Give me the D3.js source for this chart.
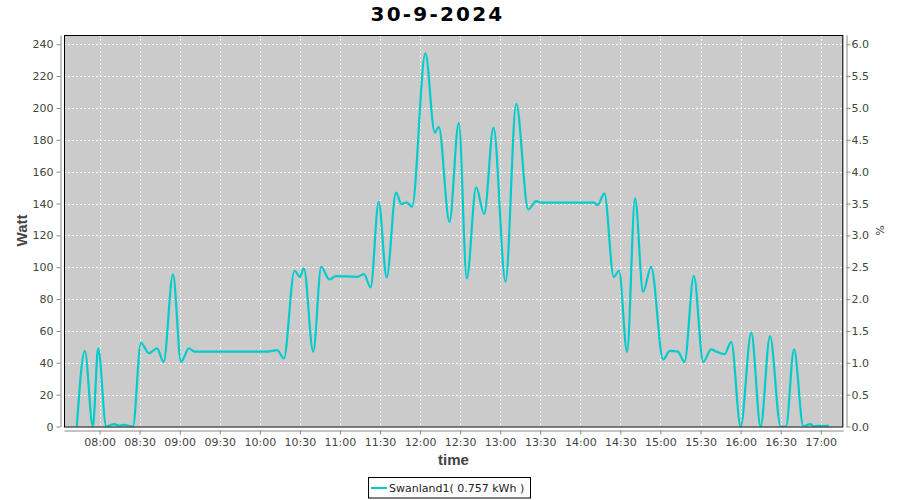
<!DOCTYPE html>
<html><head><meta charset="utf-8">
<script src="https://cdn.jsdelivr.net/npm/d3@7"></script>
<style>body{margin:0;background:#fff}svg{display:block}</style>
</head><body><svg id="c" width="900" height="500"></svg>
<script>
const chartTitle = "30-9-2024";
const seriesName = "Swanland1( 0.757 kWh )";
const yLabel = "Watt", y2Label = "%", xLabel = "time";
const times = ["07:43","07:49","07:55","07:59","08:05","08:11","08:15","08:18","08:25","08:31","08:37","08:43","08:48","08:55","09:01","09:07","09:11","10:06","10:13","10:18","10:26","10:30","10:33","10:40","10:46","10:52","10:57","11:13","11:18","11:23","11:29","11:35","11:42","11:46","11:50","11:54","12:04","12:11","12:14","12:22","12:29","12:35","12:42","12:48","12:55","13:04","13:12","13:21","13:27","13:31","14:10","14:13","14:18","14:25","14:29","14:35","14:41","14:47","14:53","15:02","15:07","15:13","15:18","15:25","15:32","15:38","15:42","15:48","15:53","16:00","16:08","16:15","16:22","16:30","16:34","16:40","16:47","16:52","16:55","16:58","17:06"];
const watts = [0,47.5,0,49,0,1.5,0.5,1,0,52.5,46,49,40.6,95.5,40.6,49,47,47,48,42.7,97.8,94,99.3,47,100.3,92.3,94.4,94,95.7,87.3,141,93.6,146.8,139.7,140.7,138,234.3,184.5,188.2,128.5,190.7,93,150.2,133.4,187.6,90.9,202.5,136.3,141.5,140.5,140.5,139,146.4,94,97.8,46.9,143.2,84.6,100.3,42.1,47.5,47,40.6,94.6,40.6,48.4,47,45.4,53.2,0,58.8,0,56.7,0,0,48.4,0,1.5,0,0.4,0.4];
const leftTicks = [0,20,40,60,80,100,120,140,160,180,200,220,240];
const rightTicks = [0,0.5,1,1.5,2,2.5,3,3.5,4,4.5,5,5.5,6];
const xTickLabels = ["08:00","08:30","09:00","09:30","10:00","10:30","11:00","11:30","12:00","12:30","13:00","13:30","14:00","14:30","15:00","15:30","16:00","16:30","17:00"];

const toMin = s => { const p = s.split(":").map(Number); return p[0]*60 + p[1]; };
const data = times.map((t,i) => ({t: toMin(t), v: watts[i]}));

const svg = d3.select("#c");
const P = {l:64, r:843.3, t:35, b:426.5};
const x = d3.scaleLinear().domain([453.4, 1036.9]).range([P.l, P.r]);
const y = d3.scaleLinear().domain([0, 245.8]).range([P.b, P.t]);
const y2 = d3.scaleLinear().domain([0, 6.145]).range([P.b, P.t]);
const FONT = "DejaVu Sans, sans-serif";

// title
svg.append("text").attr("x", 437.5).attr("y", 21).attr("text-anchor","middle")
  .attr("font-family", FONT).attr("font-weight","bold").attr("font-size",20)
  .attr("letter-spacing", 2.2).attr("fill","#000").text(chartTitle);

// plot background
svg.append("rect").attr("x", P.l).attr("y", P.t).attr("width", P.r-P.l).attr("height", P.b-P.t)
  .attr("fill", "#cbcbcb");

// gridlines
const g = svg.append("g").attr("stroke","#fff").attr("stroke-width",1).attr("stroke-dasharray","2,2");
leftTicks.filter(d=>d>0).forEach(d => {
  const yy = Math.round(y(d)) + 0.5;
  g.append("line").attr("x1",P.l).attr("x2",P.r).attr("y1",yy).attr("y2",yy);
});
xTickLabels.forEach(s => {
  const xx = Math.round(x(toMin(s))) + 0.5;
  g.append("line").attr("x1",xx).attr("x2",xx).attr("y1",P.t).attr("y2",P.b);
});

// line
svg.append("clipPath").attr("id","clip").append("rect")
  .attr("x",P.l).attr("y",P.t).attr("width",P.r-P.l).attr("height",P.b-P.t);
const line = d3.line().x(d => x(d.t)).y(d => y(d.v)).curve(d3.curveMonotoneX);
svg.append("path").datum(data).attr("clip-path","url(#clip)")
  .attr("d", line).attr("fill","none").attr("stroke","#00cccc").attr("stroke-width",2.2)
  .attr("stroke-linejoin","round");

// border
svg.append("rect").attr("x", P.l+0.5).attr("y", P.t+0.5).attr("width", P.r-P.l-1).attr("height", P.b-P.t)
  .attr("fill","none").attr("stroke","#000").attr("stroke-width",1);

function styleAxis(sel){
  sel.select(".domain").attr("stroke","#888");
  sel.selectAll(".tick line").attr("stroke","#888");
  sel.selectAll(".tick text").attr("fill","#444").attr("font-family",FONT).attr("font-size",11);
}
// left axis
svg.append("g").attr("transform","translate(60.5,0)")
  .call(d3.axisLeft(y).tickValues(leftTicks).tickSize(4).tickSizeOuter(0).tickPadding(3))
  .call(styleAxis);
// right axis
svg.append("g").attr("transform","translate(846.5,0)")
  .call(d3.axisRight(y2).tickValues(rightTicks).tickFormat(d3.format(".1f")).tickSize(4).tickSizeOuter(0).tickPadding(1))
  .call(styleAxis);
// bottom axis
svg.append("g").attr("transform","translate(0,430.5)")
  .call(d3.axisBottom(x).tickValues(xTickLabels.map(toMin)).tickFormat((d,i)=>xTickLabels[i]).tickSize(4).tickSizeOuter(0).tickPadding(4))
  .call(styleAxis);

// axis labels
svg.append("text").attr("transform","translate(27,230.5) rotate(-90)").attr("text-anchor","middle")
  .attr("font-family","Liberation Sans, sans-serif").attr("font-weight","bold").attr("font-size",15)
  .attr("fill","#444").text(yLabel);
svg.append("text").attr("transform","translate(876,230.5) rotate(90)").attr("text-anchor","middle")
  .attr("font-family",FONT).attr("font-size",11).attr("fill","#444").text(y2Label);
svg.append("text").attr("x",453.5).attr("y",465).attr("text-anchor","middle")
  .attr("font-family","Liberation Sans, sans-serif").attr("font-weight","bold").attr("font-size",15)
  .attr("fill","#444").text(xLabel);

// legend
const lg = svg.append("g");
lg.append("rect").attr("x",368.5).attr("y",477.5).attr("width",162).attr("height",20.5)
  .attr("fill","#fff").attr("stroke","#000");
lg.append("line").attr("x1",371).attr("x2",387).attr("y1",488).attr("y2",488)
  .attr("stroke","#00cccc").attr("stroke-width",2);
lg.append("text").attr("x",389).attr("y",492).attr("font-family",FONT).attr("font-size",11)
  .attr("fill","#222").text(seriesName);
</script>
</body></html>
